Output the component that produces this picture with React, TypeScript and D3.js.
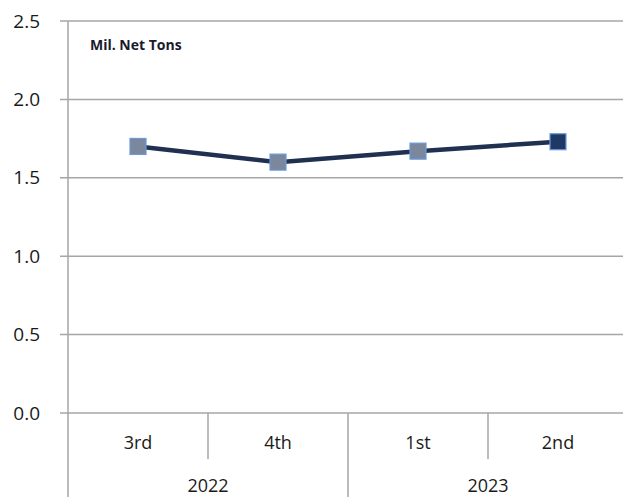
import React, { useEffect, useRef } from 'react';
import * as d3 from 'd3';

const quarters = ['3rd', '4th', '1st', '2nd'];
const years = ['2022', '2023'];
const yearSpan = [2, 2];
const values = [1.7, 1.6, 1.67, 1.73];
const yTicks = [0, 0.5, 1.0, 1.5, 2.0, 2.5];

export default function App() {
  const svgRef = useRef<SVGSVGElement>(null);

  useEffect(() => {
    const w = 623;
    const h = 497;
    const left = 68;
    const right = 628;
    const top = 21;
    const bottom = 413;
    const svg = d3.select(svgRef.current).attr('width', w).attr('height', h);
    svg.selectAll('*').remove();

    const font = "'Open Sans', 'Noto Sans', sans-serif";
    const x = d3.scaleBand().domain(quarters).range([left, right]);
    const y = d3.scaleLinear().domain([0, 2.5]).range([bottom, top]);

    // grid lines
    svg
      .selectAll('.grid')
      .data(yTicks)
      .join('line')
      .attr('x1', left - 8)
      .attr('x2', w)
      .attr('y1', (d) => y(d))
      .attr('y2', (d) => y(d))
      .attr('stroke', '#a6a6a6')
      .attr('stroke-width', 1.5);

    svg
      .selectAll('.ylab')
      .data(yTicks)
      .join('text')
      .attr('x', 40)
      .attr('y', (d) => y(d))
      .attr('dy', '0.35em')
      .attr('text-anchor', 'end')
      .attr('font-family', font)
      .attr('font-size', 19)
      .attr('fill', '#1a1a1a')
      .text((d) => d.toFixed(1));

    // y axis
    svg
      .append('line')
      .attr('x1', left)
      .attr('x2', left)
      .attr('y1', top)
      .attr('y2', h)
      .attr('stroke', '#a6a6a6')
      .attr('stroke-width', 1.5);

    // quarter dividers inside each year
    svg
      .selectAll('.qdiv')
      .data([1, 3])
      .join('line')
      .attr('x1', (i) => x(quarters[i]) as number)
      .attr('x2', (i) => x(quarters[i]) as number)
      .attr('y1', bottom)
      .attr('y2', 459)
      .attr('stroke', '#a6a6a6')
      .attr('stroke-width', 1.5);

    // year dividers
    let acc = 0;
    const yearPos: number[] = [];
    years.forEach((yr, i) => {
      const start = x(quarters[acc]) as number;
      acc += yearSpan[i];
      const end = acc < quarters.length ? (x(quarters[acc]) as number) : right;
      yearPos.push((start + end) / 2);
      if (i > 0) {
        svg
          .append('line')
          .attr('x1', start)
          .attr('x2', start)
          .attr('y1', bottom)
          .attr('y2', h)
          .attr('stroke', '#a6a6a6')
          .attr('stroke-width', 1.5);
      }
    });

    svg
      .selectAll('.qlab')
      .data(quarters)
      .join('text')
      .attr('x', (d) => (x(d) as number) + x.bandwidth() / 2)
      .attr('y', 443)
      .attr('dy', '0.35em')
      .attr('text-anchor', 'middle')
      .attr('font-family', font)
      .attr('font-size', 18)
      .attr('fill', '#1a1a1a')
      .text((d) => d);

    svg
      .selectAll('.ylbl')
      .data(years)
      .join('text')
      .attr('x', (d, i) => yearPos[i])
      .attr('y', 486)
      .attr('dy', '0.35em')
      .attr('text-anchor', 'middle')
      .attr('font-family', font)
      .attr('font-size', 18)
      .attr('fill', '#1a1a1a')
      .text((d) => d);

    // line
    const line = d3
      .line<number>()
      .x((d, i) => (x(quarters[i]) as number) + x.bandwidth() / 2)
      .y((d) => y(d));
    svg
      .append('path')
      .datum(values)
      .attr('d', line)
      .attr('fill', 'none')
      .attr('stroke', '#1f3050')
      .attr('stroke-width', 4.5);

    const s = 16;
    svg
      .selectAll('.mk')
      .data(values)
      .join('rect')
      .attr('x', (d, i) => (x(quarters[i]) as number) + x.bandwidth() / 2 - s / 2)
      .attr('y', (d) => y(d) - s / 2)
      .attr('width', s)
      .attr('height', s)
      .attr('fill', (d, i) => (i === values.length - 1 ? '#1f3864' : '#7a879c'))
      .attr('stroke', '#6a9ad8')
      .attr('stroke-width', 1.2);

    svg
      .append('text')
      .attr('x', 90)
      .attr('y', 45)
      .attr('dy', '0.35em')
      .attr('font-family', font)
      .attr('font-size', 14)
      .attr('font-weight', 'bold')
      .attr('fill', '#1a1a2e')
      .text('Mil. Net Tons');
  }, []);

  return (
    <div style={{ position: 'absolute', left: 0, top: 0 }}>
      <svg ref={svgRef} style={{ display: 'block' }}></svg>
    </div>
  );
}
